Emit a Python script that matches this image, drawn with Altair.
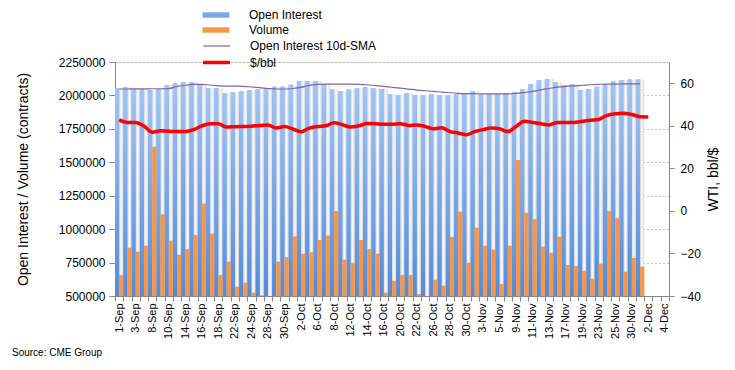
import json
import altair as alt
import pandas as pd

# ---------------- data ----------------
dates = [
    "1-Sep", "2-Sep", "3-Sep", "4-Sep", "8-Sep", "9-Sep", "10-Sep", "11-Sep", "14-Sep", "15-Sep",
    "16-Sep", "17-Sep", "18-Sep", "21-Sep", "22-Sep", "23-Sep", "24-Sep", "25-Sep", "28-Sep", "29-Sep",
    "30-Sep", "1-Oct", "2-Oct", "5-Oct", "6-Oct", "7-Oct", "8-Oct", "9-Oct", "12-Oct", "13-Oct",
    "14-Oct", "15-Oct", "16-Oct", "19-Oct", "20-Oct", "21-Oct", "22-Oct", "23-Oct", "26-Oct", "27-Oct",
    "28-Oct", "29-Oct", "30-Oct", "2-Nov", "3-Nov", "4-Nov", "5-Nov", "6-Nov", "9-Nov", "10-Nov",
    "11-Nov", "12-Nov", "13-Nov", "16-Nov", "17-Nov", "18-Nov", "19-Nov", "20-Nov", "23-Nov", "24-Nov",
    "25-Nov", "27-Nov", "30-Nov", "1-Dec", "2-Dec", "3-Dec", "4-Dec",
]

open_interest = [
    2053000, 2061000, 2048000, 2048000, 2040000, 2048000, 2078000, 2090000, 2098000, 2098000,
    2085000, 2053000, 2053000, 2016000, 2023000, 2031000, 2040000, 2048000, 2048000, 2065000,
    2065000, 2080000, 2108000, 2108000, 2108000, 2085000, 2045000, 2033000, 2045000, 2055000,
    2061000, 2053000, 2048000, 2010000, 2003000, 2018000, 2003000, 2003000, 2010000, 2003000,
    2003000, 2010000, 2018000, 2031000, 2008000, 2008000, 2008000, 2018000, 2023000, 2048000,
    2085000, 2115000, 2123000, 2098000, 2078000, 2085000, 2040000, 2048000, 2065000, 2083000,
    2108000, 2115000, 2120000, 2120000,
]

volume = [
    657000, 861000, 831000, 876000, 1617000, 1111000, 914000, 809000, 851000, 956000,
    1190000, 966000, 657000, 757000, 570000, 600000, 525000, 505000, 470000, 757000,
    791000, 946000, 816000, 827000, 919000, 951000, 1136000, 772000, 749000, 919000,
    851000, 816000, 525000, 614000, 657000, 657000, 515000, 480000, 622000, 577000,
    941000, 1131000, 749000, 1011000, 876000, 846000, 590000, 876000, 1517000, 1123000,
    1076000, 869000, 824000, 943000, 732000, 725000, 689000, 629000, 742000, 1136000,
    1086000, 682000, 784000, 719000,
]

oi_sma10 = [
    2048000, 2048000, 2049000, 2049000, 2050000, 2050000, 2051000, 2068000, 2076000, 2082000,
    2083000, 2078000, 2072000, 2070000, 2070000, 2068000, 2063000, 2058000, 2052000, 2048000,
    2048000, 2052000, 2060000, 2075000, 2083000, 2084000, 2084000, 2084000, 2084000, 2083000,
    2080000, 2074000, 2068000, 2061000, 2054000, 2047000, 2040000, 2035000, 2031000, 2025000,
    2020000, 2016000, 2014000, 2013000, 2012000, 2012000, 2012000, 2011000, 2015000, 2022000,
    2030000, 2042000, 2052000, 2062000, 2068000, 2072000, 2076000, 2080000, 2083000, 2085000,
    2085000, 2086000, 2086000, 2086000,
]

wti_price = [
    42.8, 41.6, 41.6, 39.9, 37.0, 37.7, 37.4, 37.3, 37.3, 38.2,
    40.0, 41.0, 41.0, 39.4, 39.6, 39.7, 39.8, 40.2, 40.4, 39.0,
    39.7, 38.5, 37.2, 38.9, 39.7, 40.0, 41.5, 40.5, 39.4, 40.0,
    41.1, 41.0, 40.7, 40.7, 41.0, 40.2, 40.4, 39.7, 38.6, 39.1,
    37.3, 36.6, 35.8, 37.3, 38.2, 39.0, 38.6, 37.3, 39.7, 42.1,
    41.6, 41.0, 40.4, 41.6, 41.6, 41.6, 42.1, 42.6, 43.0, 44.9,
    45.7, 45.9, 45.3, 44.3, 44.2,
]

bar_series = ["Open Interest", "Volume"]
bar_colors = ["#78a8ec", "#f79646"]
line_series = ["Open Interest 10d-SMA", "$/bbl"]
line_colors = ["#8064a2", "#ff0000"]
line_widths = [1.2, 3.5]
left_ticks = [500000, 750000, 1000000, 1250000, 1500000, 1750000, 2000000, 2250000]
right_ticks = [-40, -20, 0, 20, 40, 60]
label_dates = dates[::2]

# ---------------- tables ----------------
n = len(open_interest)
wide = pd.DataFrame({"date": dates[:n], "oi": open_interest, "vol": volume, "sma": oi_sma10})
long = pd.concat([
    pd.DataFrame({"date": dates[:n], "series": bar_series[0], "value": open_interest}),
    pd.DataFrame({"date": dates[:n], "series": bar_series[1], "value": volume}),
])
price_df = pd.DataFrame({"date": dates[:len(wti_price)], "price": wti_price})

FONT = "Liberation Sans"
LEFT_TITLE = "Open Interest / Volume (contracts)"

x_enc = alt.X(
    "date:O",
    scale=alt.Scale(domain=dates, paddingInner=0, paddingOuter=0),
    axis=alt.Axis(
        title=None, labelAngle=-90, labelOverlap=False, labelFontSize=11, labelFont=FONT,
        labelColor="#000", tickBand="extent", tickSize=5, tickColor="#888", domainColor="#888",
        labelPadding=2,
        labelExpr="indexof(" + json.dumps(label_dates) + ", datum.value) >= 0 ? datum.value : ''",
    ),
)
xoff_scale = alt.Scale(domain=bar_series, paddingInner=0, paddingOuter=0)
left_scale = alt.Scale(domain=[500000, 2250000], zero=False, nice=False)
left_axis = alt.Axis(
    values=left_ticks, format="d", grid=True, gridDash=[1, 3], gridColor="#888",
    domainColor="#888", tickColor="#888", tickSize=6, labelPadding=4, labelFontSize=12,
    labelFont=FONT, labelColor="#000", titleFont=FONT, titleFontSize=14,
    titleFontWeight="normal", titleColor="#000", titlePadding=28,
)

def ly(field):
    return alt.Y(field, title=LEFT_TITLE, scale=left_scale, axis=left_axis)

bar_legend = alt.Legend(
    title=None, orient="none", legendX=95, legendY=-53, padding=0,
    symbolType="M-3,-0.6H3V0.6H-3Z", symbolSize=81, symbolStrokeWidth=0,
    labelFont=FONT, labelFontSize=12, labelColor="#000", labelOffset=27, rowPadding=3,
)
line_legend = alt.Legend(
    title=None, orient="none", legendX=95, legendY=-22, padding=0,
    symbolType="M-3,0H3", symbolSize=81,
    labelFont=FONT, labelFontSize=12, labelColor="#000", labelOffset=27, rowPadding=3,
)

# flat coloured bars (give the legend)
base_bars = alt.Chart(long).mark_bar(clip=True).encode(
    x=x_enc,
    xOffset=alt.XOffset("series:N", scale=xoff_scale),
    y=ly("value:Q"),
    color=alt.Color("series:N", scale=alt.Scale(domain=bar_series, range=bar_colors), legend=bar_legend),
)

# light shading next to each open-interest bar
shade = alt.Chart(wide).transform_calculate(slot="'Volume'").mark_bar(
    clip=True,
    fill={"x1": 0, "y1": 0, "x2": 1, "y2": 0, "gradient": "linear",
          "stops": [{"offset": 0, "color": "#d4d4d4"}, {"offset": 0.5, "color": "#fbfbfb"},
                    {"offset": 1, "color": "#d4d4d4"}]},
).encode(x=x_enc, xOffset=alt.XOffset("slot:N", scale=xoff_scale), y=ly("oi:Q"))

oi_bars = alt.Chart(wide).transform_calculate(slot="'Open Interest'").mark_bar(
    clip=True,
    fill={"x1": 0, "y1": 0, "x2": 0, "y2": 1, "gradient": "linear",
          "stops": [{"offset": 0, "color": "#a0c5f7"}, {"offset": 1, "color": "#3a78d0"}]},
).encode(x=x_enc, xOffset=alt.XOffset("slot:N", scale=xoff_scale), y=ly("oi:Q"))

vol_bars = alt.Chart(wide).transform_calculate(slot="'Volume'").mark_bar(
    clip=True, color=bar_colors[1]
).encode(x=x_enc, xOffset=alt.XOffset("slot:N", scale=xoff_scale), y=ly("vol:Q"))

stroke_scale = alt.Scale(domain=line_series, range=line_colors)
width_scale = alt.Scale(domain=line_series, range=line_widths)

sma_line = alt.Chart(wide).transform_calculate(line="'Open Interest 10d-SMA'").mark_line(
    interpolate="monotone"
).encode(
    x=x_enc, y=ly("sma:Q"),
    stroke=alt.Stroke("line:O", scale=stroke_scale, legend=line_legend),
    strokeWidth=alt.StrokeWidth("line:O", scale=width_scale, legend=line_legend),
)

left = alt.layer(base_bars, shade, oi_bars, vol_bars, sma_line)

price_line = alt.Chart(price_df).transform_calculate(line="'$/bbl'").mark_line(
    interpolate="monotone"
).encode(
    x=x_enc,
    y=alt.Y("price:Q", title="WTI, bbl/$", scale=alt.Scale(domain=[-40, 70], nice=False, zero=False),
            axis=alt.Axis(orient="right", values=right_ticks, grid=False, domainColor="#888",
                          tickColor="#888", tickSize=5, labelPadding=6, labelFontSize=12,
                          labelFont=FONT, labelColor="#000", titleFont=FONT, titleFontSize=14,
                          titleFontWeight="normal", titleColor="#000", titleAngle=270,
                          titlePadding=20)),
    stroke=alt.Stroke("line:O", scale=stroke_scale, legend=line_legend),
    strokeWidth=alt.StrokeWidth("line:O", scale=width_scale, legend=line_legend),
)

chart = alt.layer(left, price_line).resolve_scale(y="independent").properties(
    width=554, height=234,
    autosize=alt.AutoSizeParams(type="none"),
    padding={"left": 107, "top": 54, "right": 58, "bottom": 66},
    title=alt.TitleParams("Source: CME Group", orient="bottom", anchor="start", frame="group",
                          fontSize=10, font=FONT, fontWeight="normal", color="#000",
                          dx=-103, offset=10),
).configure_view(stroke=None).configure(background="white")

chart.save("out.html", embed_options={"renderer": "svg", "actions": False})
